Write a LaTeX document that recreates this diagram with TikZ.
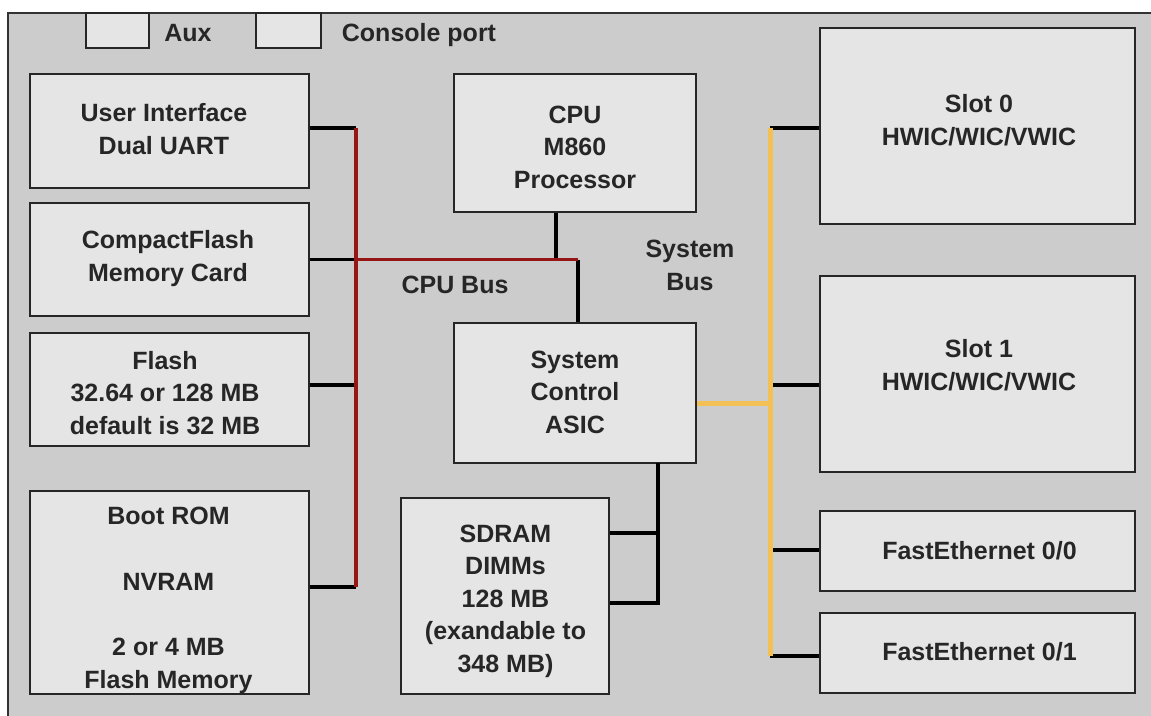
\documentclass[tikz,border=0pt]{standalone}
\usepackage{fontspec}
\setmainfont{Liberation Sans}
\definecolor{busred}{RGB}{150,22,22}
\definecolor{busyellow}{RGB}{242,192,84}

\begin{document}
\begin{tikzpicture}[x=1pt, y=-1pt, line width=1.4pt,
        blk/.style={draw=black!85, fill=gray!20, inner sep=0pt},
        lbl/.style={font=\fontsize{25}{32.5}\selectfont\bfseries, align=center, anchor=base, inner sep=0pt, text=black!85},
        wire/.style={line width=3.4pt, black}]
        \useasboundingbox (0,0) rectangle (1151,715);

        % Chassis
        \draw[fill=gray!40, draw=black!80] (8,13) rectangle (1175,735);

        % Ports on the top edge
        \node[blk, minimum width=63, minimum height=35] (aux) at (117.5,30.5) {};
        \node[blk, minimum width=65, minimum height=35] (con) at (288.5,30.5) {};
        \node[lbl] (auxtxt) at (188,41) {Aux};
        \node[lbl] (contxt) at (419,41) {Console port};

        % Left column (labels sit on their last baseline)
        \node[blk, minimum width=279, minimum height=114] (ui) at (169.5,131) {};
        \node[blk, minimum width=279, minimum height=113] (cf) at (169.5,259.5) {};
        \node[blk, minimum width=279, minimum height=113] (flash) at (169.5,389.5) {};
        \node[blk, minimum width=279, minimum height=203] (boot) at (169.5,592.5) {};
        \node[lbl] (uitxt) at (164,154) {User Interface\\Dual UART};
        \node[lbl] (cftxt) at (168,281) {CompactFlash\\Memory Card};
        \node[lbl] (flashtxt) at (165,434) {Flash\\32.64 or 128 MB\\default is 32 MB};
        \node[lbl] (boottxt) at (168.5,688) {Boot ROM\\[33pt]NVRAM\\[33pt]2 or 4 MB\\Flash Memory};

        % Middle column
        \node[blk, minimum width=242, minimum height=138] (cpu) at (575,143) {};
        \node[blk, minimum width=242, minimum height=140] (asic) at (575,393) {};
        \node[blk, minimum width=208, minimum height=196] (sdram) at (505,596) {};
        \node[lbl] (cputxt) at (575,188) {CPU\\M860\\Processor};
        \node[lbl] (asictxt) at (575,433) {System\\Control\\ASIC};
        \node[lbl] (sdramtxt) at (505.5,672) {SDRAM\\DIMMs\\128 MB\\(exandable to\\348 MB)};
        \node[lbl] (cpubus) at (455,293) {CPU Bus};
        \node[lbl] (sysbus) at (690,290) {System\\Bus};

        % Right column
        \node[blk, minimum width=315, minimum height=196] (slot0) at (977.5,126) {};
        \node[blk, minimum width=315, minimum height=196] (slot1) at (977.5,374) {};
        \node[blk, minimum width=315, minimum height=80] (fe0) at (977.5,551) {};
        \node[blk, minimum width=315, minimum height=80] (fe1) at (977.5,653) {};
        \node[lbl] (slot0txt) at (979,145) {Slot 0\\HWIC/WIC/VWIC};
        \node[lbl] (slot1txt) at (979,390) {Slot 1\\HWIC/WIC/VWIC};
        \node[lbl] (fe0txt) at (979.5,559) {FastEthernet 0/0};
        \node[lbl] (fe1txt) at (979.5,660) {FastEthernet 0/1};

        % CPU bus
        \coordinate (rtop) at (356,128);
        \coordinate (rflash) at (356,385);
        \coordinate (rbot) at (356,587);
        \coordinate (cpuj) at (556,259.5);
        \coordinate (rend) at (578,259.5);
        \draw[wire] (ui.east |- rtop) -- (rtop);
        \draw[wire] (cf.east) -- (cf.east -| rtop);
        \draw[wire] (flash.east |- rflash) -- (rflash);
        \draw[wire] (boot.east |- rbot) -- (rbot);
        \draw[wire] (cpu.south -| cpuj) -- (cpuj);
        \draw[wire] (rend) -- (asic.north -| rend);
        \draw[busred, line width=3.2pt] (rtop) -- (rbot);
        \draw[busred, line width=3.2pt] (cf.east -| rtop) -- (rend);

        % Memory links
        \coordinate (mtop) at (658,463);
        \coordinate (mmid) at (658,533);
        \coordinate (mbot) at (658,603);
        \draw[wire] (mtop) -- (mbot) -- (mbot -| sdram.east);
        \draw[wire] (mmid) -- (mmid -| sdram.east);

        % System bus
        \coordinate (ytop) at (770,128);
        \coordinate (yasic) at (770,403);
        \coordinate (yslot1) at (770,385);
        \coordinate (yfe0) at (770,550);
        \coordinate (ybot) at (770,656);
        \draw[wire] (ytop) -- (slot0.west |- ytop);
        \draw[wire] (yslot1) -- (slot1.west |- yslot1);
        \draw[wire] (yfe0) -- (fe0.west |- yfe0);
        \draw[wire] (ybot) -- (fe1.west |- ybot);
        \draw[busyellow, line width=5pt] (ytop) -- (ybot);
        \draw[busyellow, line width=5pt] (asic.east |- yasic) -- (yasic);
    \end{tikzpicture}
\end{document}
